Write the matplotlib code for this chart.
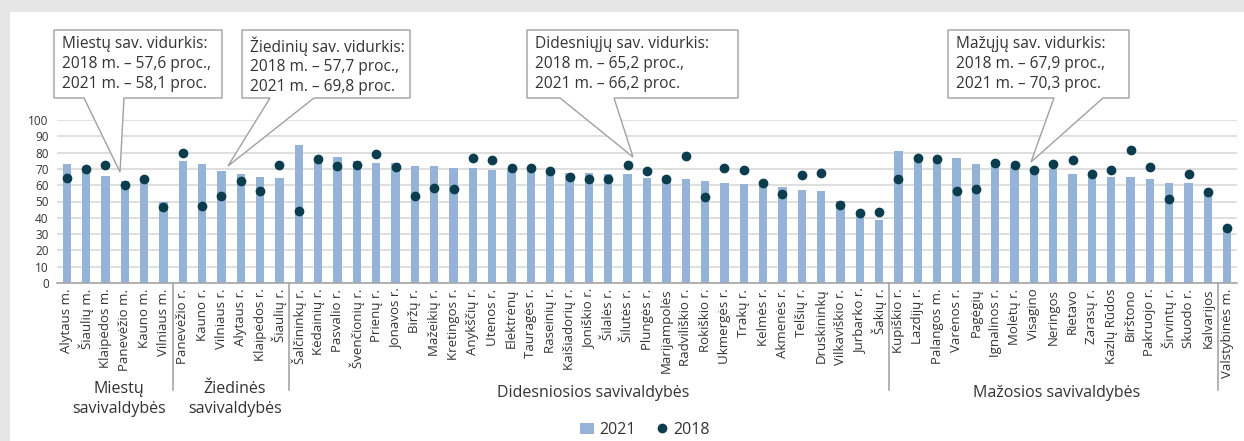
import matplotlib
matplotlib.use("Agg")
import matplotlib.pyplot as plt
from matplotlib.patches import Polygon, Rectangle
import matplotlib.transforms as mtransforms
import numpy as np

plt.rcParams['font.family'] = ['Open Sans', 'DejaVu Sans']

# --- data ---
miestu = ["Alytaus m.", "Šiaulių m.", "Klaipėdos m.", "Panevėžio m.", "Kauno m.", "Vilniaus m."]
miestu_2021 = [73, 70, 65.6, 62.6, 62.2, 49.9]
miestu_2018 = [64.6, 70, 72.6, 60.3, 63.6, 46.4]

ziedines = ["Panevėžio r.", "Kauno r.", "Vilniaus r.", "Alytaus r.", "Klaipėdos r.", "Šiaulių r."]
ziedines_2021 = [74.8, 73, 68.7, 66.9, 65, 64.4]
ziedines_2018 = [79.7, 47.4, 53.6, 62.8, 56.6, 72.6]

didesnes = ["Šalčininkų r.", "Kėdainių r.", "Pasvalio r.", "Švenčionių r.", "Prienų r.", "Jonavos r.",
            "Biržų r.", "Mažeikių r.", "Kretingos r.", "Anykščių r.", "Utenos r.", "Elektrėnų",
            "Tauragės r.", "Raseinių r.", "Kaišiadorių r.", "Joniškio r.", "Šilalės r.", "Šilutės r.",
            "Plungės r.", "Marijampolės", "Radviliškio r.", "Rokiškio r.", "Ukmergės r.", "Trakų r.",
            "Kelmės r.", "Akmenės r.", "Telšių r.", "Druskininkų", "Vilkaviškio r.", "Jurbarko r.",
            "Šakių r."]
didesnes_2021 = [84.5, 76, 77.1, 74.6, 73.6, 73.6, 71.6, 71.6, 70.6, 70.6, 69.3, 69.5,
                 69.3, 68.7, 67.7, 67.5, 66.9, 66.9, 64.4, 64, 63.8, 62.6, 61.3, 60.7,
                 60.1, 58.9, 57, 56.4, 50.3, 42.3, 38.7]
didesnes_2018 = [44, 76, 71.8, 72.6, 79.1, 71.2, 53.6, 58.5, 57.9, 76.7, 75.5, 70.6,
                 70.6, 68.9, 65, 64, 63.6, 72.6, 68.9, 64, 78.1, 53, 70.6, 69.5,
                 61.5, 54.8, 66.5, 67.7, 47.6, 42.7, 43.4]

mazos = ["Kupiškio r.", "Lazdijų r.", "Palangos m.", "Varėnos r.", "Pagėgių", "Ignalinos r.",
         "Molėtų r.", "Visagino", "Neringos", "Rietavo", "Zarasų r.", "Kazlų Rūdos", "Birštono",
         "Pakruojo r.", "Širvintų r.", "Skuodo r.", "Kalvarijos"]
mazos_2021 = [80.8, 76.2, 76, 76.5, 73, 72.4, 71, 70, 69.7, 66.9, 67, 65, 65, 63.8, 61.3, 61.3, 56]
mazos_2018 = [64, 76.7, 76.1, 56.6, 57.9, 73.6, 72.6, 69.5, 73.2, 75.5, 66.9, 69.5, 81.6,
              71.2, 51.3, 67, 56]

valst = ["Valstybinės m."]
valst_2021 = [35]
valst_2018 = [33.5]

groups = ["Miestų\nsavivaldybės", "Žiedinės\nsavivaldybės", "Didesniosios savivaldybės",
          "Mažosios savivaldybės"]

callouts = [
    "Miestų sav. vidurkis:\n2018 m. – 57,6 proc.,\n2021 m. – 58,1 proc.",
    "Žiedinių sav. vidurkis:\n2018 m. – 57,7 proc.,\n2021 m. – 69,8 proc.",
    "Didesniųjų sav. vidurkis:\n2018 m. – 65,2 proc.,\n2021 m. – 66,2 proc.",
    "Mažųjų sav. vidurkis:\n2018 m. – 67,9 proc.,\n2021 m. – 70,3 proc.",
]

labels = miestu + ziedines + didesnes + mazos + valst
v2021 = miestu_2021 + ziedines_2021 + didesnes_2021 + mazos_2021 + valst_2021
v2018 = miestu_2018 + ziedines_2018 + didesnes_2018 + mazos_2018 + valst_2018
sizes = [len(miestu), len(ziedines), len(didesnes), len(mazos), len(valst)]

W, H = 1244, 441
fig = plt.figure(figsize=(W / 100, H / 100), dpi=100, facecolor='#e6e6e6')
fig.add_artist(Rectangle((10 / W, 0), 1 - 10 / W, 1 - 12 / H, transform=fig.transFigure,
                         facecolor='white', edgecolor='none', zorder=-10))

ax = fig.add_axes([57 / W, 1 - 283 / H, 1180 / W, 163 / H])
ax.set_facecolor('none')
x = np.arange(len(labels))
bars = ax.bar(x, v2021, width=0.43, color='#95b3d7', label='2021', zorder=2)
dots, = ax.plot(x, v2018, 'o', color='#0b3d4f', markersize=6, label='2018', zorder=3)

ax.set_xlim(-0.5, len(labels) - 0.5)
ax.set_ylim(0, 100)
ax.set_yticks(range(0, 101, 10))
ax.grid(axis='y', color='#d9d9d9', linewidth=1.2, zorder=0)
ax.set_axisbelow(True)
for s in ['top', 'right', 'left']:
    ax.spines[s].set_visible(False)
ax.spines['bottom'].set_color('#a6a6a6')
ax.spines['bottom'].set_linewidth(1.2)
ax.set_xticks(x)
ax.set_xticklabels(labels, rotation=90, fontsize=9.5, color='#333333')
ax.tick_params(axis='both', length=0, colors='#333333')
ax.tick_params(axis='y', labelsize=8.5, pad=6)
ax.tick_params(axis='x', pad=4)

# group separators and labels
trans = mtransforms.blended_transform_factory(ax.transData, ax.transAxes)
bounds = np.cumsum(sizes)
for b in bounds[:-1]:
    ax.plot([b - 0.5, b - 0.5], [0, -0.656], color='#a6a6a6', lw=1.2,
            transform=trans, clip_on=False)
start = 0
for i, g in enumerate(groups):
    mid = start + (sizes[i] - 1) / 2
    yy = -0.71 if i < 2 else -0.675
    ax.text(mid + 0.2, yy, g, transform=trans, ha='center', va='center', fontsize=11.5,
            color='#333333', linespacing=1.35)
    start += sizes[i]

# callout boxes (pixel coords from top-left)
def px(xp, yp):
    return (xp / W, 1 - yp / H)

boxes = [(54, 222, 30, 98, 84, 124, (120, 172)),
         (242, 410, 30, 98, 270, 314, (228, 166)),
         (527, 738, 30, 98, 560, 614, (633, 157)),
         (948, 1129, 30, 98, 1054, 1103, (1031, 162))]
for (x0, x1, y0, y1, p1, p2, tip), txt in zip(boxes, callouts):
    pts = [px(x0, y0), px(x1, y0), px(x1, y1), px(p2, y1), px(*tip), px(p1, y1), px(x0, y1)]
    fig.add_artist(Polygon(pts, closed=True, transform=fig.transFigure, facecolor='white',
                           edgecolor='#a0a0a0', linewidth=1.0, zorder=5))
    fig.text(*px(x0 + 8, y0 + 6), txt, ha='left', va='top', fontsize=11.2,
             color='#333333', linespacing=1.32, zorder=6)

fig.legend([bars, dots], ['2021', '2018'], loc='center', bbox_to_anchor=px(645, 430),
           ncol=2, frameon=False, fontsize=11.5, handlelength=0.9, handletextpad=0.3,
           columnspacing=1.2, labelcolor='#333333')

fig.savefig('out.png', dpi=100, facecolor=fig.get_facecolor())
